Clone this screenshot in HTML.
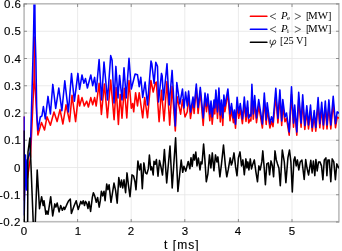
<!DOCTYPE html>
<html><head><meta charset="utf-8"><style>
html,body{margin:0;padding:0;background:#fff;}
body{width:342px;height:251px;position:relative;overflow:hidden;font-family:"Liberation Sans",sans-serif;color:#000;}
svg{position:absolute;left:0;top:0;}
.t{position:absolute;will-change:transform;white-space:nowrap;}
body .yl,body .xl,body .xlab{-webkit-text-stroke:0.15px #000;}
.yl{right:320.7px;font-size:11.5px;line-height:14px;letter-spacing:0.5px;text-align:right;}
.xl{top:224.2px;width:20px;text-align:center;font-size:11.5px;line-height:14px;}
.xlab{left:164.3px;top:237.5px;font-size:12px;line-height:14px;letter-spacing:1.05px;}
.lg{font-family:"Liberation Serif",serif;font-size:10.8px;line-height:14px;}
.lg i{font-style:italic;}
</style></head><body>
<svg width="342" height="251" viewBox="0 0 342 251">
<defs><clipPath id="c"><rect x="23.5" y="4.4" width="315.5" height="217.6"/></clipPath></defs>
<line x1="77.6" y1="4" x2="77.6" y2="222" stroke="#e6e6e6" stroke-width="0.8"/>
<line x1="131.2" y1="4" x2="131.2" y2="222" stroke="#e6e6e6" stroke-width="0.8"/>
<line x1="184.8" y1="4" x2="184.8" y2="222" stroke="#e6e6e6" stroke-width="0.8"/>
<line x1="238.4" y1="4" x2="238.4" y2="222" stroke="#e6e6e6" stroke-width="0.8"/>
<line x1="292.0" y1="4" x2="292.0" y2="222" stroke="#e6e6e6" stroke-width="0.8"/>
<line x1="24" y1="194.75" x2="339" y2="194.75" stroke="#e6e6e6" stroke-width="0.8"/>
<line x1="24" y1="167.50" x2="339" y2="167.50" stroke="#e6e6e6" stroke-width="0.8"/>
<line x1="24" y1="140.25" x2="339" y2="140.25" stroke="#e6e6e6" stroke-width="0.8"/>
<line x1="24" y1="113.00" x2="339" y2="113.00" stroke="#e6e6e6" stroke-width="0.8"/>
<line x1="24" y1="85.75" x2="339" y2="85.75" stroke="#e6e6e6" stroke-width="0.8"/>
<line x1="24" y1="58.50" x2="339" y2="58.50" stroke="#e6e6e6" stroke-width="0.8"/>
<line x1="24" y1="31.25" x2="339" y2="31.25" stroke="#e6e6e6" stroke-width="0.8"/>
<rect x="24.1" y="3.8" width="314.79999999999995" height="217.89999999999998" fill="none" stroke="#bcbcbc" stroke-width="1.6"/>
<path d="M24.0,222v-3M24.0,4v3M77.6,222v-3M77.6,4v3M131.2,222v-3M131.2,4v3M184.8,222v-3M184.8,4v3M238.4,222v-3M238.4,4v3M292.0,222v-3M292.0,4v3M24,222.00h3M339,222.00h-3M24,194.75h3M339,194.75h-3M24,167.50h3M339,167.50h-3M24,140.25h3M339,140.25h-3M24,113.00h3M339,113.00h-3M24,85.75h3M339,85.75h-3M24,58.50h3M339,58.50h-3M24,31.25h3M339,31.25h-3M24,4.00h3M339,4.00h-3" stroke="#777" stroke-width="0.8" fill="none"/>
<g clip-path="url(#c)" fill="none" stroke-linejoin="round" stroke-linecap="round" stroke-width="1.55">
<polyline points="24.0,117.0 24.2,200.0 25.5,165.0 27.5,178.0 30.5,157.0 34.0,80.0 34.4,37.0 34.7,80.0 37.9,135.0 41.5,122.5 44.5,130.0 47.0,116.8 50.4,125.2 54.0,112.0 57.1,121.6 60.0,109.6 62.9,124.0 66.0,104.8 69.6,121.6 72.0,95.2 75.6,121.6 78.4,95.2 79.6,106.0 82.0,97.6 84.3,106.0 86.7,101.2 88.4,107.0 90.8,97.6 92.7,104.8 94.6,97.6 96.2,106.0 99.1,83.3 101.4,114.5 104.4,84.0 107.4,117.7 110.7,80.1 114.1,119.7 116.1,87.6 118.4,124.4 120.2,94.4 122.0,118.3 124.3,88.3 126.8,118.0 129.0,80.5 131.3,108.3 132.7,103.5 133.7,111.8 135.6,92.7 137.5,105.9 139.2,92.7 142.7,117.8 144.7,97.5 147.5,117.8 150.9,80.5 153.2,92.0 155.3,83.0 156.3,82.0 159.1,121.7 161.5,90.3 164.0,121.0 167.0,81.5 169.7,125.1 172.1,86.2 175.3,131.0 177.0,96.4 180.6,114.2 182.5,99.7 185.0,117.0 187.3,111.7 188.6,95.0 190.5,118.5 193.0,101.3 194.1,113.4 196.3,88.0 198.1,113.4 200.3,91.4 203.2,125.5 205.0,97.0 206.5,111.7 207.8,98.0 209.8,120.8 211.0,105.9 212.2,124.3 214.0,104.8 214.8,114.0 215.9,94.0 217.5,118.5 218.9,92.0 220.3,122.0 221.5,104.8 222.8,125.5 223.9,99.0 224.9,111.7 227.9,93.0 230.0,120.8 231.5,109.7 233.4,122.7 234.4,115.5 235.5,128.3 237.1,104.0 238.7,118.3 240.3,109.7 242.4,123.6 244.3,103.9 246.0,121.5 247.6,107.4 248.7,123.0 250.3,119.4 250.9,120.9 251.9,92.4 253.3,119.1 254.7,102.5 256.5,122.7 258.7,106.0 262.4,128.0 264.3,100.3 266.2,124.4 267.2,108.9 269.9,128.0 271.5,121.5 273.0,126.6 275.8,96.0 277.9,123.0 279.9,97.4 281.7,125.4 282.8,106.0 285.0,121.8 286.5,118.2 289.2,135.2 291.5,94.5 293.5,127.3 294.7,111.1 296.8,135.2 298.7,99.6 301.1,127.3 302.7,101.7 304.8,129.4 306.8,111.6 308.5,129.0 310.5,111.0 312.2,131.2 314.2,116.0 315.8,131.2 318.1,104.2 319.8,127.8 321.7,108.6 323.4,128.9 325.3,107.5 327.0,128.9 328.9,106.4 330.8,128.9 333.2,103.2 335.5,127.8 337.2,117.1 339.0,118.2" stroke="#f00"/>
<polyline points="24.0,117.0 24.2,215.0 25.5,155.0 26.5,190.0 27.3,160.0 30.3,152.0 32.9,60.0 33.5,37.0 34.0,10.0 34.4,-100.0 34.5,-100.0 34.9,10.0 35.2,37.0 35.9,60.0 36.8,115.0 38.0,130.0 40.3,117.0 41.9,116.0 43.4,106.5 45.3,119.0 48.0,96.4 50.4,114.0 52.8,84.4 55.7,108.4 58.8,88.0 61.9,110.8 64.8,80.8 68.4,112.0 71.5,73.6 74.4,101.2 77.9,73.4 79.6,89.3 82.0,75.0 83.9,83.3 85.5,78.6 87.4,88.0 90.8,75.0 92.7,85.7 94.6,77.4 96.2,91.7 99.1,59.5 101.6,100.0 104.0,62.0 107.5,100.0 110.7,55.6 112.1,60.3 114.0,103.0 115.9,66.4 118.0,98.0 119.6,75.4 122.0,100.0 124.0,67.7 126.2,98.0 129.0,58.3 131.3,89.0 135.1,74.0 137.5,74.8 139.2,86.7 140.8,77.2 142.7,97.5 145.1,82.0 147.5,105.0 151.0,61.0 151.8,63.7 154.1,83.5 155.8,62.3 157.5,66.4 158.5,102.0 161.5,73.4 162.2,76.0 163.5,100.0 167.0,63.7 169.2,105.0 172.1,70.4 175.3,126.0 176.8,82.5 179.8,104.0 182.5,89.0 184.0,108.0 185.6,92.0 187.3,106.0 188.6,91.0 190.5,112.0 193.0,97.0 194.1,107.5 196.3,84.0 198.1,107.5 200.3,87.4 203.2,118.0 205.0,93.0 206.5,106.0 207.8,94.0 209.8,114.0 211.0,101.0 212.2,117.0 214.0,100.0 214.8,108.0 215.9,90.0 217.5,112.0 218.9,88.0 220.3,115.0 221.5,100.0 222.8,118.0 223.9,95.0 224.9,106.0 227.9,89.0 230.0,114.0 231.5,103.5 233.4,118.0 234.4,110.0 235.5,124.2 237.1,97.2 238.7,113.1 240.3,103.5 242.4,119.0 244.3,97.1 246.0,116.7 247.6,101.0 248.7,118.3 250.3,114.3 250.9,116.0 251.9,84.3 253.3,114.0 254.7,95.5 256.5,118.0 258.7,99.5 262.4,123.9 264.3,93.1 266.2,119.9 267.2,102.7 269.9,123.9 271.5,116.7 273.0,122.3 275.8,88.3 277.9,118.3 279.9,89.9 281.7,121.0 282.8,99.5 285.0,117.0 286.5,113.0 289.2,131.9 291.5,86.7 293.5,123.1 294.7,105.1 296.8,131.9 298.7,92.3 301.1,123.1 302.7,94.7 304.8,125.5 306.8,105.7 308.5,125.0 310.5,105.0 312.2,127.5 314.2,110.5 315.8,127.5 318.1,97.5 319.8,123.7 321.7,102.3 323.4,124.9 325.3,101.1 327.0,124.9 328.9,99.9 330.8,124.9 333.2,96.3 335.5,123.7 337.2,111.8 339.0,113.0" stroke="#00f"/>
<polyline points="24.0,131.0 24.4,290.0 27.3,290.0 28.0,152.0 29.9,138.0 34.3,250.0 37.2,170.0 39.5,208.7 41.6,196.7 43.2,205.5 44.0,200.7 45.9,214.3 46.8,211.1 48.0,214.3 50.7,196.7 52.7,215.9 54.8,203.9 55.9,207.1 57.2,203.1 59.1,211.9 60.7,205.5 62.3,210.3 63.9,207.1 64.7,209.5 67.1,203.9 68.7,200.7 70.3,199.1 71.4,213.5 74.2,205.5 76.2,200.8 78.2,209.5 80.8,201.4 82.0,204.0 83.2,200.7 84.5,205.5 85.5,201.4 86.8,203.5 88.0,208.5 89.0,201.5 90.6,211.5 92.3,197.5 93.4,192.7 94.7,195.9 96.3,202.3 97.6,197.5 99.2,207.1 100.3,200.7 101.4,191.2 102.7,195.9 104.0,191.2 105.1,200.7 106.7,184.0 107.9,189.6 109.1,184.8 111.0,202.3 114.0,183.1 115.6,190.3 117.2,203.1 118.8,177.6 120.4,187.1 121.5,180.0 122.7,187.9 124.0,179.8 125.6,192.7 127.0,172.9 128.4,184.8 130.0,196.7 132.0,174.9 133.5,175.8 135.0,181.8 136.0,189.8 137.9,161.0 139.5,169.9 140.9,163.9 142.3,188.8 143.9,162.9 145.5,172.9 146.9,173.9 148.3,168.9 149.4,155.0 150.8,169.9 151.8,166.9 153.2,174.9 154.0,161.2 155.2,164.3 156.4,159.6 158.0,176.3 159.5,160.4 161.1,167.5 162.5,175.0 164.4,149.6 166.7,183.0 170.0,146.0 172.2,188.0 175.6,137.7 177.9,191.4 181.2,160.0 182.7,172.3 183.9,166.3 185.8,171.1 188.2,161.5 189.9,168.7 191.0,157.7 192.2,166.3 193.5,154.5 194.5,160.0 195.8,152.0 197.0,165.9 198.4,158.0 200.0,169.9 201.0,161.9 202.0,163.9 203.6,144.0 204.9,159.9 206.3,181.8 207.9,173.8 209.5,154.9 210.9,167.9 212.3,152.9 213.9,170.8 215.5,154.9 216.9,161.9 217.9,156.9 219.9,176.8 221.5,163.9 223.5,145.0 225.4,165.9 226.8,176.8 228.2,169.9 230.2,157.9 231.4,165.0 232.4,161.9 234.0,152.9 235.6,166.9 237.0,175.8 238.4,157.9 240.0,151.9 241.5,165.9 242.9,159.9 244.3,174.8 245.9,158.9 246.9,167.9 247.9,161.9 248.9,169.9 250.3,158.9 251.5,168.9 252.9,163.9 254.3,159.9 255.9,171.8 257.5,181.8 258.9,165.9 260.2,169.9 261.8,161.9 262.8,150.9 264.2,167.9 265.4,184.8 266.8,164.0 268.4,162.9 269.6,174.8 271.0,160.9 272.4,165.9 273.6,176.8 275.0,150.9 276.3,159.9 277.5,163.9 278.9,167.9 280.3,185.8 282.3,150.0 284.3,161.9 285.9,182.8 287.9,157.9 289.5,150.0 290.9,161.9 292.3,192.0 293.9,159.9 294.9,156.9 296.2,165.9 297.4,159.9 298.8,169.9 300.2,161.9 301.9,160.0 304.2,179.5 305.7,159.6 307.0,168.0 308.6,175.0 310.8,160.3 312.1,173.0 313.4,161.0 314.8,175.6 315.9,159.6 317.2,171.0 318.5,162.0 319.9,161.9 321.5,165.9 322.9,179.8 324.3,159.9 325.9,157.9 326.9,175.8 327.9,159.9 329.3,159.9 330.8,181.8 332.2,158.9 333.8,161.9 335.4,179.8 336.8,163.9 337.8,165.9 339.0,168.0" stroke="#000"/>
</g>
<line x1="250.5" y1="16.25" x2="266.8" y2="16.25" stroke="#f00" stroke-width="1.7" stroke-linecap="round"/>
<line x1="250.5" y1="29.25" x2="266.8" y2="29.25" stroke="#00f" stroke-width="1.7" stroke-linecap="round"/>
<line x1="250.5" y1="42.25" x2="266.8" y2="42.25" stroke="#000" stroke-width="1.7" stroke-linecap="round"/>
<path d="M276,13.5L270.2,16.3L276,19.3M294.8,13.5L300.6,16.3L294.8,19.3M276,26.5L270.2,29.3L276,32.3M294.8,26.5L300.6,29.3L294.8,32.3" stroke="#222" stroke-width="0.75" fill="none"/><path d="M270.3,40.2Q269.2,44.6 272.2,44.6Q275.9,44.4 275.8,41.8Q275.6,39.8 274.2,40.2Q272.9,40.7 272.6,43L270.8,47.3" stroke="#222" stroke-width="0.9" fill="none" stroke-linecap="round"/>
</svg>
<div class="t yl" style="top:-3.0px">0.6</div>
<div class="t yl" style="top:24.2px">0.5</div>
<div class="t yl" style="top:51.5px">0.4</div>
<div class="t yl" style="top:78.8px">0.3</div>
<div class="t yl" style="top:106.0px">0.2</div>
<div class="t yl" style="top:133.2px">0.1</div>
<div class="t yl" style="top:160.5px">0</div>
<div class="t yl" style="top:187.8px">-0.1</div>
<div class="t yl" style="top:215.0px">-0.2</div>
<div class="t xl" style="left:14.0px">0</div>
<div class="t xl" style="left:67.6px">1</div>
<div class="t xl" style="left:121.2px">2</div>
<div class="t xl" style="left:174.8px">3</div>
<div class="t xl" style="left:228.4px">4</div>
<div class="t xl" style="left:282.0px">5</div>
<div class="t xlab">t [ms]</div>
<div class="t lg" style="left:280.5px;top:7.5px"><i>P</i></div><div class="t lg" style="left:287.3px;top:14.0px;font-size:6.8px;line-height:8px">e</div><div class="t lg" style="left:305.6px;top:8.8px;font-size:10.2px">[</div><div class="t lg" style="left:307.7px;top:8.0px;font-size:10.9px">MW</div><div class="t lg" style="left:328.3px;top:8.8px;font-size:10.2px">]</div><div class="t lg" style="left:280.5px;top:20.5px"><i>P</i></div><div class="t lg" style="left:287.3px;top:27.0px;font-size:6.8px;line-height:8px">i</div><div class="t lg" style="left:305.6px;top:21.8px;font-size:10.2px">[</div><div class="t lg" style="left:307.7px;top:21.0px;font-size:10.9px">MW</div><div class="t lg" style="left:328.3px;top:21.8px;font-size:10.2px">]</div><div class="t lg" style="left:280.3px;top:34.3px;font-size:10.3px">[25 V]</div>
</body></html>
